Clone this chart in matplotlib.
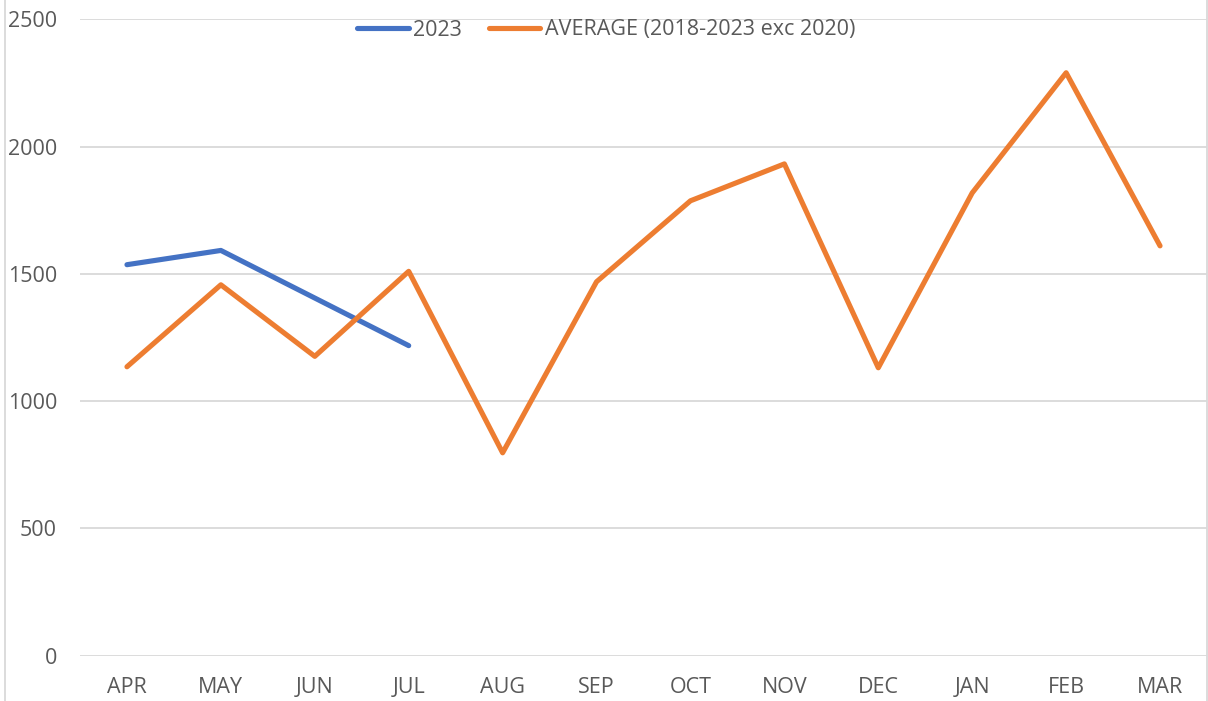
import matplotlib
matplotlib.use("Agg")
import matplotlib.pyplot as plt
from matplotlib.lines import Line2D

months = ["APR", "MAY", "JUN", "JUL", "AUG", "SEP", "OCT", "NOV", "DEC", "JAN", "FEB", "MAR"]
series_2023 = [1536, 1592, 1405, 1218]
series_avg = [1135, 1457, 1176, 1510, 797, 1469, 1787, 1932, 1131, 1818, 2290, 1610]
yticks = [0, 500, 1000, 1500, 2000, 2500]

plt.rcParams['font.family'] = ['Open Sans', 'DejaVu Sans']
text_color = "#595959"
grid_color = "#D9D9D9"
fs = 15.5

W, H = 1208, 701
fig = plt.figure(figsize=(W / 100, H / 100), dpi=100)
ax = fig.add_axes([80 / W, 1 - 655.7 / H, (1207 - 80) / W, (655.7 - 19.3) / H])

x = list(range(len(months)))
ax.plot(x[:len(series_2023)], series_2023, color="#4472C4", lw=3.7,
        solid_capstyle="round", solid_joinstyle="round", label="2023", zorder=3)
ax.plot(x, series_avg, color="#ED7D31", lw=3.7,
        solid_capstyle="round", solid_joinstyle="round",
        label="AVERAGE (2018-2023 exc 2020)", zorder=3)

ax.set_xlim(-0.5, len(months) - 0.5)
ax.set_ylim(0, 2500)
ax.set_yticks(yticks)
ax.set_yticklabels([str(v) for v in yticks])
ax.set_xticks(x)
ax.set_xticklabels(months)
ax.grid(axis="y", color=grid_color, lw=1.3, zorder=0)
ax.set_axisbelow(True)
for s in ax.spines.values():
    s.set_visible(False)
ax.tick_params(axis="both", length=0, colors=text_color, labelsize=fs)
ax.tick_params(axis="y", pad=16.5)
ax.tick_params(axis="x", pad=15.5)

# chart-area border (left and right)
fig.add_artist(Line2D([4.5 / W, 4.5 / W], [0, 1], transform=fig.transFigure, color=grid_color, lw=1.3))
fig.add_artist(Line2D([1207 / W, 1207 / W], [0, 1], transform=fig.transFigure, color=grid_color, lw=1.3))

leg = fig.legend(loc="center", bbox_to_anchor=(606 / W, 1 - 30 / H), ncol=2, frameon=False,
                 fontsize=fs, handlelength=2.4, handletextpad=0.2, columnspacing=1.25,
                 labelcolor=text_color)

fig.savefig("out.png", dpi=100)
